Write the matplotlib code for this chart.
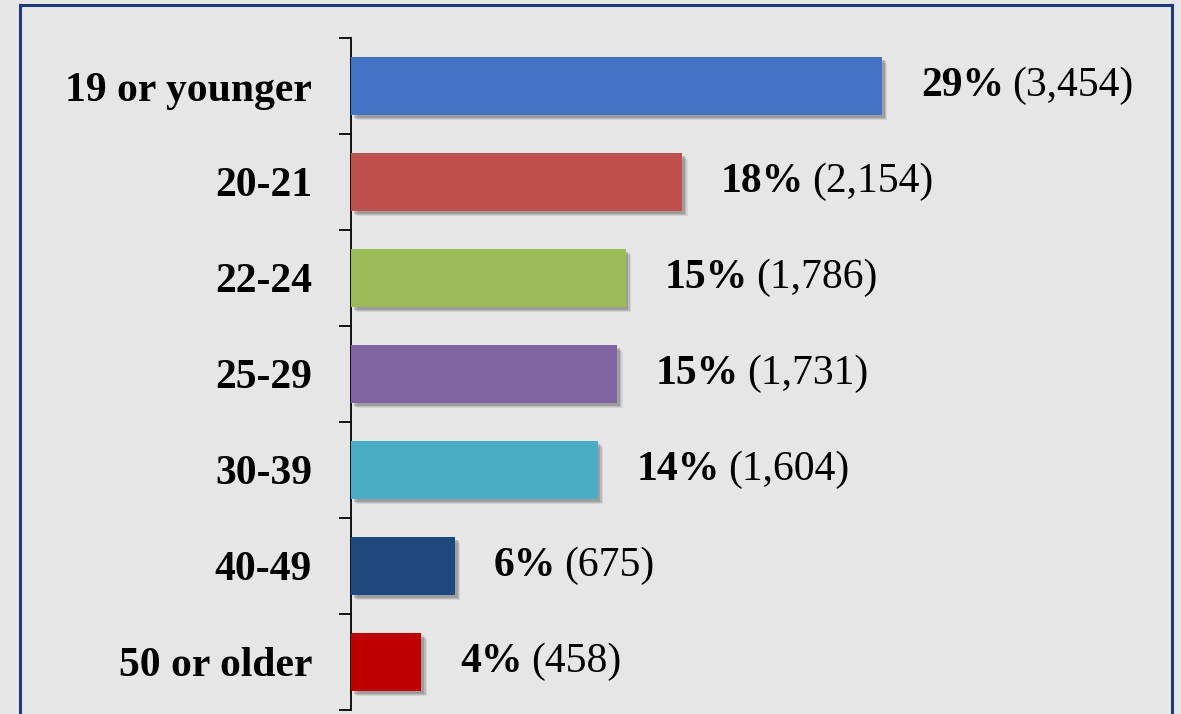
import matplotlib.pyplot as plt
import matplotlib.patheffects as pe
from matplotlib.patches import Rectangle

############################# Data ################################

categories = ["19 or younger", "20-21", "22-24", "25-29", "30-39", "40-49", "50 or older"]
counts = [3454, 2154, 1786, 1731, 1604, 675, 458]
percents = ["29%", "18%", "15%", "15%", "14%", "6%", "4%"]
count_labels = ["(3,454)", "(2,154)", "(1,786)", "(1,731)", "(1,604)", "(675)", "(458)"]

###################
bar_colors = ["#4472C4", "#C0504D", "#9BBB59", "#8064A2", "#4BACC6", "#1F497D", "#C00000"]
bg_color = "#E6E6E6"
frame_color = "#1F3A78"
font_size = 30
font_name = ["Liberation Serif", "DejaVu Serif"]

########################################################################

fig = plt.figure(figsize=(11.81, 7.14), dpi=100)
fig.patch.set_facecolor(bg_color)

# dark frame around the chart area (bottom runs off the picture)
frame = Rectangle((20 / 1181, -0.05), (1172 - 20) / 1181, (714 - 5) / 714 + 0.05,
                  transform=fig.transFigure, fill=False, edgecolor=frame_color, linewidth=2.2)
fig.patches.append(frame)

ax = fig.add_axes([351 / 1181, 4 / 714, (1172 - 351) / 1181, 672 / 714])
ax.set_facecolor("none")

n = len(categories)
ypos = list(range(n))
bars = ax.barh(ypos, counts, height=0.6, color=bar_colors, zorder=3)
for b in bars:
    b.set_path_effects([pe.SimplePatchShadow(offset=(4, -4), shadow_rgbFace="#000000", alpha=0.08),
                        pe.SimplePatchShadow(offset=(3, -3), shadow_rgbFace="#000000", alpha=0.12),
                        pe.SimplePatchShadow(offset=(2, -2), shadow_rgbFace="#000000", alpha=0.15),
                        pe.Normal()])

ax.set_xlim(0, (1172 - 351) / 0.1537)
ax.set_ylim(n - 0.5, -0.5)

for sp in ["top", "right", "bottom"]:
    ax.spines[sp].set_visible(False)
ax.spines["left"].set_linewidth(1.3)
ax.set_xticks([])

ax.set_yticks(ypos)
ax.set_yticklabels(categories, fontsize=font_size, fontweight="bold", family=font_name)
ax.tick_params(axis="y", which="major", length=0, pad=28)
ax.set_yticks([i - 0.5 for i in range(n + 1)], minor=True)
ax.tick_params(axis="y", which="minor", length=9, width=1.3, direction="out")

for i in range(n):
    t = ax.annotate(percents[i], xy=(counts[i], i), xytext=(28, 0), textcoords="offset points",
                    fontsize=font_size, fontweight="bold", family=font_name,
                    ha="left", va="center", annotation_clip=False)
    ax.annotate(count_labels[i], xy=(1, 0.5), xycoords=t, xytext=(6, 0), textcoords="offset points",
                fontsize=font_size, family=font_name, ha="left", va="center", annotation_clip=False)

plt.savefig("out.png", dpi=100, facecolor=bg_color)
